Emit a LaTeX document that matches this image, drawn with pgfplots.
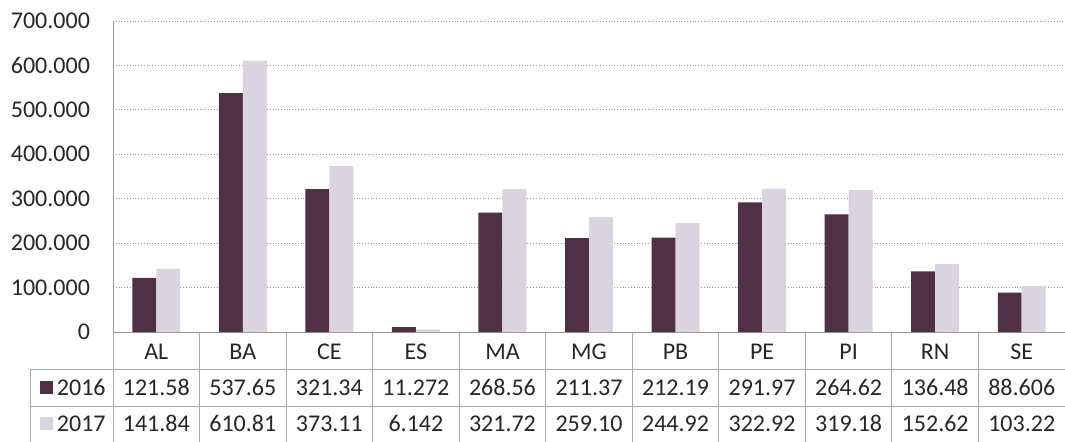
\documentclass[border=0pt]{standalone}
\usepackage{fontspec}
\setmainfont{Carlito}
\usepackage{pgfplots}
\pgfplotsset{compat=1.18}
\definecolor{c2016}{RGB}{80,48,70}
\definecolor{c2017}{RGB}{218,212,224}
\definecolor{gridc}{RGB}{150,150,150}
\definecolor{tablec}{RGB}{170,170,170}
\begin{document}
\begin{tikzpicture}
\useasboundingbox (0,0) rectangle (532.5pt,220.5pt);
\begin{axis}[
  at={(56.5pt,54.5pt)}, anchor=south west,
  scale only axis, width=476pt, height=155.5pt,
  xmin=-0.5, xmax=10.5, ymin=0, ymax=700,
  ybar=0pt, bar width=0.277,
  clip=false,
  axis x line*=bottom, axis y line*=left,
  axis line style={gridc, line width=0.5pt},
  major tick length=0pt,
  ymajorgrids, grid style={gridc, densely dotted, line width=0.5pt},
  ytick={0,100,200,300,400,500,600,700},
  yticklabels={0,100.000,200.000,300.000,400.000,500.000,600.000,700.000},
  yticklabel style={font=\fontsize{12}{14.4}\selectfont, text=black!85, xshift=-8pt},
  xtick={0,1,2,3,4,5,6,7,8,9,10},
  xticklabels={
    {AL\\121.58\\141.84},{BA\\537.65\\610.81},{CE\\321.34\\373.11},
    {ES\\11.272\\6.142},{MA\\268.56\\321.72},{MG\\211.37\\259.10},
    {PB\\212.19\\244.92},{PE\\291.97\\322.92},{PI\\264.62\\319.18},
    {RN\\136.48\\152.62},{SE\\88.606\\103.22}},
  xticklabel style={font=\fontsize{12}{18}\selectfont, text=black!85, align=center, anchor=north, inner sep=0pt, yshift=-5.6pt},
  legend style={at={(axis cs:-0.5,0)}, anchor=north east, xshift=-3.5pt, yshift=-18.5pt,
    draw=none, fill=none, inner sep=0pt, row sep=0pt,
    font=\fontsize{12}{14.4}\selectfont, text=black!85,
    nodes={inner sep=0pt, text height=12.9pt, text depth=5.1pt}},
  legend cell align=left,
  legend image code/.code={\fill[#1] (0pt,-3.25pt) rectangle (6.5pt,3.25pt);},
]
\addplot[fill=c2016, draw=none] coordinates {
  (0,121.58) (1,537.65) (2,321.34) (3,11.272) (4,268.56) (5,211.37)
  (6,212.19) (7,291.97) (8,264.62) (9,136.48) (10,88.606)};
\addlegendentry{\hspace{2pt}2016}
\addplot[fill=c2017, draw=none] coordinates {
  (0,141.84) (1,610.81) (2,373.11) (3,6.142) (4,321.72) (5,259.10)
  (6,244.92) (7,322.92) (8,319.18) (9,152.62) (10,103.22)};
\addlegendentry{\hspace{2pt}2017}
\pgfplotsinvokeforeach{-0.5,0.5,1.5,2.5,3.5,4.5,5.5,6.5,7.5,8.5,9.5,10.5}{
  \draw[tablec, line width=0.5pt] (axis cs:#1,0) -- (axis cs:#1,-260);
}
\draw[tablec, line width=0.5pt] (axis cs:-1.459,-85.5) -- (axis cs:10.5,-85.5);
\draw[tablec, line width=0.5pt] (axis cs:-1.459,-166.6) -- (axis cs:10.5,-166.6);
\draw[tablec, line width=0.5pt] (axis cs:-1.459,-85.5) -- (axis cs:-1.459,-260);
\end{axis}
\end{tikzpicture}
\end{document}
